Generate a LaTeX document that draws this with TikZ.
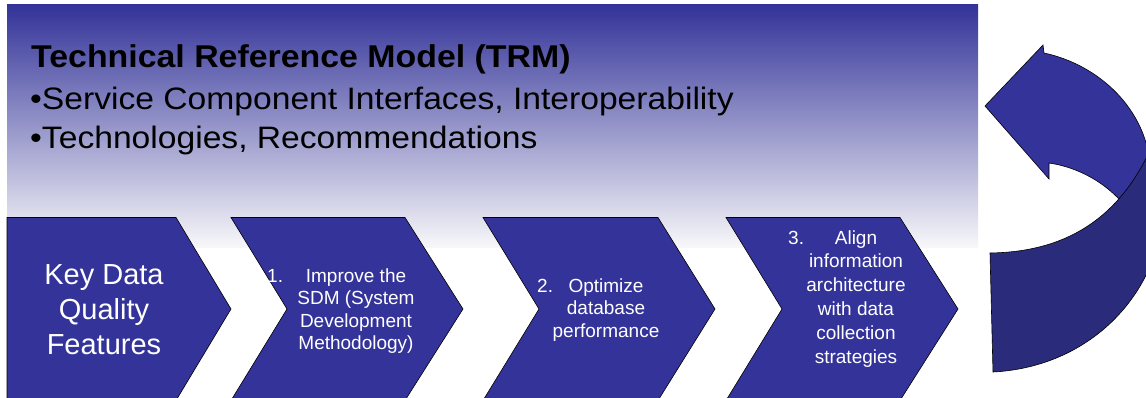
\documentclass[tikz,border=0pt]{standalone}
\usepackage{fontspec}
\setmainfont{Liberation Sans}
\newfontfamily\headfont[FakeStretch=1.075]{Liberation Sans}
\newfontfamily\listfont[FakeStretch=1.085]{Liberation Sans}
\definecolor{trmblue}{HTML}{333399}
\definecolor{trmdeep}{HTML}{2B2B7B}
\definecolor{trmpale}{HTML}{F8F8FA}
\tikzset{
  chevron/.style={fill=trmblue, draw=black, line width=0.6pt, line join=miter},
  bandlight/.style={fill=trmblue, draw=black, line width=0.6pt},
  banddark/.style={fill=trmdeep, draw=black, line width=0.6pt},
  headline/.style={anchor=base west, inner sep=0pt, text=black, font=\headfont\fontsize{31.5}{39}\selectfont\bfseries},
  bullet/.style={anchor=base west, inner sep=0pt, text=black, font=\listfont\fontsize{31}{39}\selectfont},
  % multi-line labels are placed by the baseline of their last line
  bigtext/.style={anchor=base, inner sep=0pt, text=white, align=center, font=\fontsize{29}{35}\selectfont},
  steptext/.style={anchor=base, inner sep=0pt, text=white, align=center, font=\fontsize{19}{22.5}\selectfont},
  stepnum/.style={anchor=base west, inner sep=0pt, text=white, font=\fontsize{19}{22.5}\selectfont}
}
\begin{document}
\begin{tikzpicture}[x=1pt, y=-1pt]
\useasboundingbox (0,0) rectangle (1146,398);
\clip (0,0) rectangle (1146,398);

% header panel with vertical gradient
\shade[top color=trmblue, bottom color=trmpale] (7,5) rectangle (978,248);

% header texts
\node[headline] (title) at (31,68) {Technical Reference Model (TRM)};
\node[bullet] (itemA) at (30,110) {•Service Component Interfaces, Interoperability};
\node[bullet] (itemB) at (30,149) {•Technologies, Recommendations};

% process chevrons
\draw[chevron] (7,217.5) -- (176,217.5) -- (231,309) -- (176,400.5) -- (7,400.5) -- cycle;
\draw[chevron] (231,217.5) -- (405,217.5) -- (463,309) -- (405,400.5) -- (231,400.5) -- (287,309) -- cycle;
\draw[chevron] (483,217.5) -- (658,217.5) -- (715,309) -- (658,400.5) -- (483,400.5) -- (539,309) -- cycle;
\draw[chevron] (726,217.5) -- (900,217.5) -- (958,309) -- (900,400.5) -- (726,400.5) -- (782,309) -- cycle;

% chevron labels
\node[bigtext] (keyq) at (104,354) {Key Data\\Quality\\Features};
\node[stepnum] (n1) at (267,282) {1.};
\node[steptext] (s1) at (356,349.5) {Improve the\\SDM (System\\Development\\Methodology)};
\node[stepnum] (n2) at (537,292) {2.};
\node[steptext] (s2) at (606,337) {Optimize\\database\\performance};
\node[stepnum] (n3) at (788,244) {3.};
\node[steptext, font=\fontsize{19}{23.8}\selectfont] (s3) at (856,363) {Align\\information\\architecture\\with data\\collection\\strategies};

% curved return arrow: front band with head
\draw[bandlight] (985,106) -- (1043,45) -- (1044,53)
  .. controls (1100,65) and (1146,110) .. (1150,165)
  -- (1152,240) -- (1132,215)
  .. controls (1112,186) and (1082,168) .. (1049,163)
  -- (1049,179) -- cycle;
% back band of the arrow
\draw[banddark] (990,253)
  .. controls (1062,252) and (1118,222) .. (1152,146)
  -- (1152,262)
  .. controls (1128,322) and (1070,368) .. (993,372)
  -- cycle;
\end{tikzpicture}
\end{document}
